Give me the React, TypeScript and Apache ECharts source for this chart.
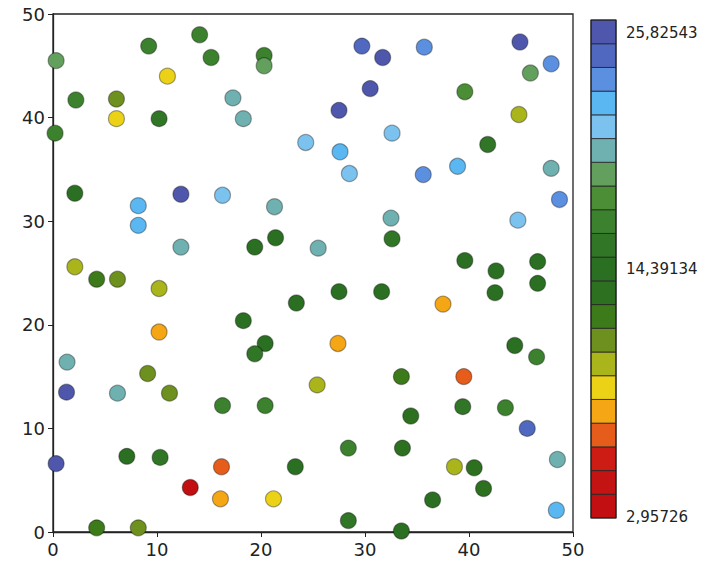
import React, { useEffect, useRef } from "react";
import * as echarts from "echarts";

// x, y, value
const xs = [0.3, 2.2, 0.2, 9.2, 14.1, 15.2, 20.3, 20.3, 11.0, 6.1, 6.1, 10.2, 17.3, 18.3, 24.3, 2.1, 8.2, 8.2, 12.3, 16.3,
  21.3, 12.3, 19.4, 21.4, 2.1, 4.2, 6.2, 10.2, 10.2, 18.3, 20.4, 19.4, 23.4, 1.35, 1.3, 6.2, 9.1, 11.2, 16.3, 20.4,
  0.3, 7.1, 10.3, 13.2, 16.2, 16.1, 21.2, 23.3, 4.2, 8.2, 29.7, 31.7, 35.7, 44.9, 47.9, 45.9, 30.5, 27.5, 39.6, 44.8,
  27.6, 32.6, 41.8, 28.5, 35.6, 38.9, 47.9, 48.7, 44.7, 32.5, 32.6, 25.5, 39.6, 42.6, 46.6, 46.6, 42.5, 27.5, 31.6, 37.5,
  27.4, 44.4, 46.5, 25.4, 33.5, 39.5, 39.4, 43.5, 34.4, 45.6, 28.4, 33.6, 48.5, 38.6, 40.5, 41.4, 36.5, 48.4, 28.4, 33.5];
const ys = [45.5, 41.7, 38.5, 46.9, 48.0, 45.8, 46.0, 45.0, 44.0, 41.8, 39.9, 39.9, 41.9, 39.9, 37.6, 32.7, 31.5, 29.6, 32.6, 32.5,
  31.4, 27.5, 27.5, 28.4, 25.6, 24.4, 24.4, 23.5, 19.3, 20.4, 18.2, 17.2, 22.1, 16.4, 13.5, 13.4, 15.3, 13.4, 12.2, 12.2,
  6.6, 7.3, 7.2, 4.3, 6.3, 3.2, 3.2, 6.3, 0.4, 0.4, 46.9, 45.8, 46.8, 47.3, 45.2, 44.3, 42.8, 40.7, 42.5, 40.3,
  36.7, 38.5, 37.4, 34.6, 34.5, 35.3, 35.1, 32.1, 30.1, 30.3, 28.3, 27.4, 26.2, 25.2, 26.1, 24.0, 23.1, 23.2, 23.2, 22.0,
  18.2, 18.0, 16.9, 14.2, 15.0, 15.0, 12.1, 12.0, 11.2, 10.0, 8.1, 8.1, 7.0, 6.3, 6.2, 4.2, 3.1, 2.1, 1.1, 0.1];
const values = [18.9, 16.8, 16.2, 16.5, 17.0, 16.3, 16.6, 18.3, 9.1, 10.6, 8.8, 15.0, 20.0, 19.6, 21.0, 14.5, 22.2, 21.8, 25.82543, 21.2,
  19.9, 19.7, 14.2, 14.0, 9.9, 11.8, 11.2, 10.2, 7.9, 14.3, 14.6, 16.0, 14.4, 20.2, 25.5, 19.5, 11.0, 11.5, 16.2, 16.4,
  24.8, 14.0, 15.2, 2.95726, 6.6, 7.8, 9.0, 14.1, 12.0, 11.6, 24.6, 25.4, 23.2, 24.8, 23.0, 18.8, 25.6, 25.7, 17.2, 10.3,
  22.1, 21.1, 15.6, 21.0, 23.5, 22.0, 19.8, 23.6, 21.4, 19.9, 16.0, 19.6, 14.3, 14.6, 14.1, 14.8, 14.5, 14.2, 14.0, 7.6,
  7.9, 14.2, 16.3, 10.3, 12.4, 6.5, 15.1, 16.8, 13.6, 24.3, 16.1, 13.8, 19.5, 10.4, 13.2, 13.7, 13.9, 22.0, 15.3, 14.0];

const vMin = 2.95726;
const vMax = 25.82543;
// colour bins, bottom (low) to top (high)
const binColors = ["#c10f12", "#c41313", "#cc1c14", "#e65c1a", "#f5a614", "#ebd217", "#a9b51a", "#6e901e", "#3d7a1a", "#2c7020",
  "#2b7022", "#307626", "#3c822e", "#4c8e36", "#63a05e", "#6fb1b0", "#7cc2ef", "#5ab7f2", "#5b8fe0", "#5068c0", "#4f57ac"];
const barLabels = ["25,82543", "14,39134", "2,95726"];
const xTicks = [0, 10, 20, 30, 40, 50];

export default function App() {
  const ref = useRef<HTMLDivElement>(null);
  useEffect(() => {
    if (!ref.current) return;
    const chart = echarts.init(ref.current, null, { renderer: "svg" });
    const n = binColors.length;
    const w = (vMax - vMin) / n;
    const pieces = binColors.map((c, i) => (
      i === n - 1 ? { gte: vMin + i * w, lte: vMax + 1, color: c } : { gte: vMin + i * w, lt: vMin + (i + 1) * w, color: c }
    ));
    const barTop = 20, barBottom = 518, barLeft = 591, barW = 25;
    const binH = (barBottom - barTop) / n;
    const graphics: any[] = binColors.map((c, i) => ({
      type: "rect",
      shape: { x: barLeft, y: barBottom - (i + 1) * binH, width: barW, height: binH },
      style: { fill: c, stroke: "#222", lineWidth: 0.8 },
    }));
    graphics.push({
      type: "rect",
      shape: { x: barLeft, y: barTop, width: barW, height: barBottom - barTop },
      style: { fill: "none", stroke: "#222", lineWidth: 1.2 },
    });
    const labelYs = [barTop + 13, (barTop + barBottom) / 2, barBottom - 1];
    barLabels.forEach((t, i) => {
      graphics.push({
        type: "text",
        x: barLeft + barW + 10,
        y: labelYs[i],
        style: { text: t, fill: "#222", font: "15px 'DejaVu Sans'", textVerticalAlign: "middle" },
      });
    });
    chart.setOption({
      animation: false,
      backgroundColor: "#ffffff",
      grid: { left: 53, right: 131, top: 14, bottom: 42, show: true, borderColor: "#222", borderWidth: 1.3, backgroundColor: "transparent" },
      xAxis: {
        type: "value", min: 0, max: 50, interval: 10,
        axisLine: { show: true, lineStyle: { color: "#222", width: 1.3 } },
        axisTick: { show: true, inside: false, length: 5, lineStyle: { color: "#222" } },
        axisLabel: { color: "#222", fontSize: 18, fontFamily: "DejaVu Sans", margin: 8, formatter: (v: number) => (xTicks.includes(v) ? String(v) : "") },
        splitLine: { show: false },
      },
      yAxis: {
        type: "value", min: 0, max: 50, interval: 10,
        axisLine: { show: true, lineStyle: { color: "#222", width: 1.3 } },
        axisTick: { show: true, inside: false, length: 5, lineStyle: { color: "#222" } },
        axisLabel: { color: "#222", fontSize: 18, fontFamily: "DejaVu Sans", margin: 8 },
        splitLine: { show: false },
      },
      visualMap: { type: "piecewise", show: false, dimension: 2, pieces },
      series: [{
        type: "scatter",
        symbolSize: 16,
        itemStyle: { borderColor: "rgba(0,0,0,0.35)", borderWidth: 1.2, opacity: 1 },
        data: xs.map((x, i) => [x, ys[i], values[i]]),
      }],
      graphic: graphics,
    });
    return () => chart.dispose();
  }, []);
  return <div ref={ref} style={{ position: "fixed", left: 0, top: 0, width: 704, height: 574 }} />;
}
